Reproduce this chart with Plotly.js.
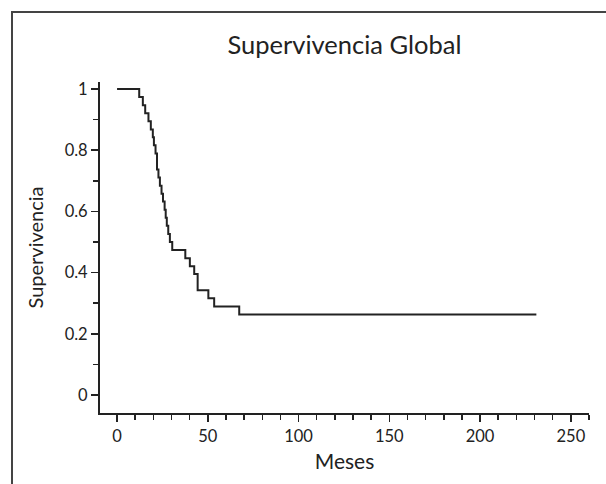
<!DOCTYPE html>
<html>
<head>
<meta charset="utf-8">
<script src="https://cdn.plot.ly/plotly-3.0.1.min.js"></script>
<style>
  html, body { margin: 0; padding: 0; background: #fff; }
  #wrap { position: relative; width: 606px; height: 484px; overflow: hidden; }
  #frame { position: absolute; left: 11px; top: 11px; width: 640px; height: 520px;
           border-left: 2px solid #444; border-top: 2px solid #444; pointer-events: none; }
  #chart { position: absolute; left: 0; top: 0; width: 606px; height: 484px; }
</style>
</head>
<body>
<div id="wrap">
  <div id="chart"></div>
  <div id="frame"></div>
</div>
<script>
// Kaplan-Meier step curve: event times (months) and survival after each step
const meses = [0, 12.2, 14.2, 15.5, 17.3, 18.6, 19.7, 20.3, 21.2, 22.0, 22.8, 23.6, 24.5, 25.3, 26.2, 26.8, 27.4, 28.2, 29.1, 30.4, 37.6, 40.1, 42.5, 44.4, 50.3, 53.5, 67.3, 231];
const supervivencia = [1, 0.974, 0.947, 0.921, 0.895, 0.868, 0.842, 0.816, 0.789, 0.737, 0.711, 0.684, 0.658, 0.632, 0.605, 0.579, 0.553, 0.526, 0.500, 0.474, 0.447, 0.421, 0.395, 0.342, 0.316, 0.289, 0.263, 0.263];
const xTickVals = [0, 50, 100, 150, 200, 250];
const yTickVals = [0, 0.2, 0.4, 0.6, 0.8, 1];
const yTickText = ['0', '0.2', '0.4', '0.6', '0.8', '1'];

const FONT = 'Lato, "Open Sans", sans-serif';

const trace = {
  x: meses,
  y: supervivencia,
  type: 'scatter',
  mode: 'lines',
  line: { shape: 'hv', color: '#222', width: 2 },
  hoverinfo: 'x+y'
};

const layout = {
  width: 606,
  height: 484,
  margin: { l: 100, r: 17, t: 82, b: 71 },
  paper_bgcolor: '#fff',
  plot_bgcolor: '#fff',
  showlegend: false,
  font: { family: FONT, color: '#222', size: 16 },
  title: {
    text: 'Supervivencia Global',
    font: { family: FONT, size: 25.5, color: '#222' },
    x: 0.5, xanchor: 'center', xref: 'paper',
    y: 0.907, yanchor: 'middle', yref: 'container'
  },
  xaxis: {
    range: [-9.4, 260],
    tickvals: xTickVals,
    ticks: 'outside',
    ticklen: 7,
    tickwidth: 1.5,
    tickcolor: '#222',
    showline: true,
    linecolor: '#222',
    linewidth: 2,
    showgrid: false,
    zeroline: false,
    tickfont: { family: FONT, size: 16.5, color: '#222' },
    minor: { dtick: 10, tick0: 0, ticks: 'outside', ticklen: 5, tickwidth: 1.5, tickcolor: '#222', showgrid: false },
    title: { text: 'Meses', font: { family: FONT, size: 21, color: '#222' }, standoff: 10 }
  },
  yaxis: {
    range: [-0.059, 1.023],
    tickvals: yTickVals,
    ticktext: yTickText,
    ticks: 'outside',
    ticklen: 7,
    tickwidth: 1.5,
    tickcolor: '#222',
    showline: true,
    linecolor: '#222',
    linewidth: 2,
    showgrid: false,
    zeroline: false,
    tickfont: { family: FONT, size: 16.5, color: '#222' },
    minor: { dtick: 0.1, tick0: 0, ticks: 'outside', ticklen: 5, tickwidth: 1.5, tickcolor: '#222', showgrid: false },
    title: { text: 'Supervivencia', font: { family: FONT, size: 20, color: '#222' }, standoff: 16 }
  }
};

Plotly.newPlot('chart', [trace], layout, { displayModeBar: false, staticPlot: true });
</script>
</body>
</html>
